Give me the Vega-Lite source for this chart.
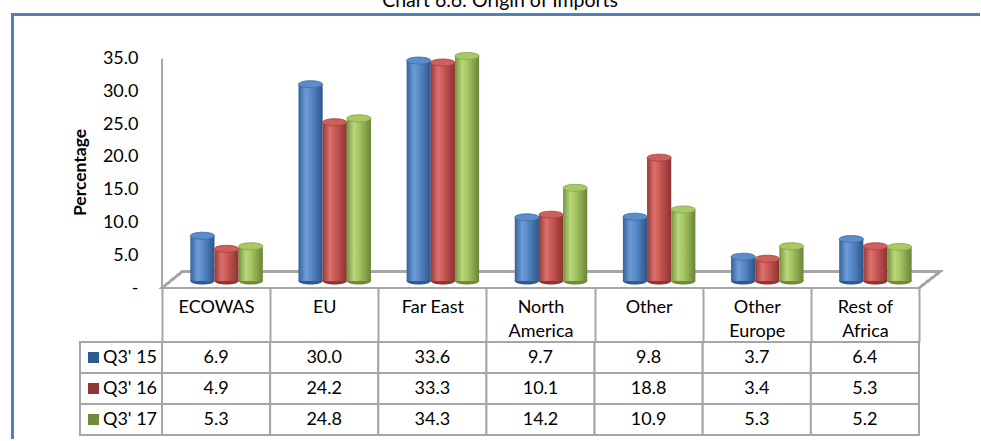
{
  "$schema": "https://vega.github.io/schema/vega-lite/v6.json",
  "background": "white",
  "padding": {"left": 9, "top": -10, "right": -3, "bottom": -3},
  "title": {"text": "Chart 6.6: Origin of Imports", "anchor": "middle", "font": "Lato", "fontSize": 19.5, "fontWeight": "normal", "color": "#000000", "offset": 3, "dx": 4},
  "config": {"view": {"stroke": null}, "font": "Lato", "axis": {"labelFont": "Lato", "titleFont": "Lato"}},
  "datasets": {
    "imports": [
      {"region": "ECOWAS", "series": "Q3' 15", "value": 6.9},
      {"region": "ECOWAS", "series": "Q3' 16", "value": 4.9},
      {"region": "ECOWAS", "series": "Q3' 17", "value": 5.3},
      {"region": "EU", "series": "Q3' 15", "value": 30.0},
      {"region": "EU", "series": "Q3' 16", "value": 24.2},
      {"region": "EU", "series": "Q3' 17", "value": 24.8},
      {"region": "Far East", "series": "Q3' 15", "value": 33.6},
      {"region": "Far East", "series": "Q3' 16", "value": 33.3},
      {"region": "Far East", "series": "Q3' 17", "value": 34.3},
      {"region": "North America", "series": "Q3' 15", "value": 9.7},
      {"region": "North America", "series": "Q3' 16", "value": 10.1},
      {"region": "North America", "series": "Q3' 17", "value": 14.2},
      {"region": "Other", "series": "Q3' 15", "value": 9.8},
      {"region": "Other", "series": "Q3' 16", "value": 18.8},
      {"region": "Other", "series": "Q3' 17", "value": 10.9},
      {"region": "Other Europe", "series": "Q3' 15", "value": 3.7},
      {"region": "Other Europe", "series": "Q3' 16", "value": 3.4},
      {"region": "Other Europe", "series": "Q3' 17", "value": 5.3},
      {"region": "Rest of Africa", "series": "Q3' 15", "value": 6.4},
      {"region": "Rest of Africa", "series": "Q3' 16", "value": 5.3},
      {"region": "Rest of Africa", "series": "Q3' 17", "value": 5.2}
    ]
  },
  "columns": 2,
  "spacing": 0,
  "bounds": "flush",
  "concat": [
    {
      "width": 150,
      "height": 328,
      "data": {"values": [{"f": 0}]},
      "mark": {"type": "point", "opacity": 0},
      "encoding": {
        "x": {"field": "f", "type": "quantitative", "scale": {"domain": [0, 1]},
              "axis": {"orient": "top", "domainColor": "#4f81bd", "domainWidth": 3, "domainCap": "square", "ticks": false, "labels": false, "grid": false, "title": null}},
        "y": {"field": "f", "type": "quantitative", "scale": {"domain": [0, 1]},
              "axis": {"orient": "left", "domainColor": "#4f81bd", "domainWidth": 3, "domainCap": "square", "ticks": false, "labels": false, "grid": false, "title": null}}
      }
    },
    {
      "width": 821,
      "height": 274,
      "layer": [
        {
          "data": {"values": [{}]},
          "mark": {"type": "rule", "color": "#a6a6a6", "strokeWidth": 2},
          "encoding": {
            "x": {"datum": "ECOWAS", "type": "nominal", "bandPosition": 0,
                  "scale": {"domain": ["ECOWAS", "EU", "Far East", "North America", "Other", "Other Europe", "Rest of Africa"], "paddingInner": 0, "paddingOuter": 0.296, "align": 0}},
            "y": {"datum": 0, "type": "quantitative",
                  "scale": {"domain": [0, 41.77], "nice": false, "zero": false},
                  "axis": {"orient": "left", "values": [0, 5, 10, 15, 20, 25, 30, 35],
                           "labelExpr": "datum.value == 0 ? '-\u00a0\u00a0\u00a0\u00a0' : format(datum.value, '.1f')",
                           "domain": false, "ticks": false, "grid": false,
                           "labelFontSize": 18, "labelColor": "#000000", "labelPadding": 24,
                           "title": "Percentage", "titleFontSize": 17.5, "titleFontWeight": "bold", "titleColor": "#000000",
                           "titlePadding": 13, "titleY": 158}},
            "y2": {"datum": 35}
          }
        },
        {
          "data": {"name": "imports"},
          "layer": [
            {
              "mark": {"type": "point", "shape": "M-0.94625,0.0175L0.94625,0.0175L0.99875,-0.02325L-0.89625,-0.02325Z", "size": 640000, "filled": false, "stroke": "#a6a6a6", "strokeWidth": 2, "opacity": 1},
              "encoding": {
                "x": {"datum": "North America", "type": "nominal",
                      "scale": {"domain": ["ECOWAS", "EU", "Far East", "North America", "Other", "Other Europe", "Rest of Africa"], "paddingInner": 0, "paddingOuter": 0.296, "align": 0}},
                "y": {"datum": 0, "type": "quantitative",
                      "scale": {"domain": [-1.067, 40.7], "nice": false, "zero": false},
                      "axis": {"orient": "right", "values": [40.7], "grid": true, "gridColor": "#4f81bd", "gridWidth": 3, "gridOpacity": 1, "domain": false, "ticks": false, "labels": false, "title": null}}
              }
            },
            {
              "mark": {"type": "point", "shape": "M-1,0A1,0.29,0,1,0,1,0A1,0.29,0,1,0,-1,0Z", "size": 586, "filled": true, "opacity": 1},
              "encoding": {
                "x": {"field": "region", "type": "nominal",
                      "scale": {"domain": ["ECOWAS", "EU", "Far East", "North America", "Other", "Other Europe", "Rest of Africa"], "paddingInner": 0, "paddingOuter": 0.296, "align": 0}},
                "xOffset": {"field": "series", "type": "nominal",
                            "scale": {"domain": ["Q3' 15", "Q3' 16", "Q3' 17"], "paddingInner": 0, "paddingOuter": 0.738, "align": 0.795}},
                "y": {"datum": 0, "type": "quantitative", "scale": {"domain": [-1.067, 40.7], "nice": false, "zero": false}},
                "color": {"field": "series", "type": "nominal",
                          "scale": {"domain": ["Q3' 15", "Q3' 16", "Q3' 17"], "range": ["#2f5a91", "#8f3532", "#6f8a38"]}, "legend": null}
              }
            },
            {
              "transform": [{"filter": {"field": "series", "equal": "Q3' 15"}}],
              "mark": {"type": "bar", "fill": {"gradient": "linear", "x1": 0, "y1": 0, "x2": 1, "y2": 0,
                        "stops": [{"offset": 0, "color": "#35609a"}, {"offset": 0.3, "color": "#6d9cd8"}, {"offset": 0.55, "color": "#5787c4"}, {"offset": 1, "color": "#2c5589"}]}},
              "encoding": {
                "x": {"field": "region", "type": "nominal",
                      "scale": {"domain": ["ECOWAS", "EU", "Far East", "North America", "Other", "Other Europe", "Rest of Africa"], "paddingInner": 0, "paddingOuter": 0.296, "align": 0},
                      "axis": {"orient": "bottom", "domain": false, "tickBand": "extent", "tickSize": 54, "tickColor": "#a6a6a6", "tickWidth": 2,
                               "labelAngle": 0, "labelAlign": "center", "labelFontSize": 18, "labelColor": "#000000", "labelPadding": -44, "labelBaseline": "top", "labelLineHeight": 24,
                               "labelOverlap": false, "labelFlush": false, "grid": false, "title": null,
                               "labelExpr": "datum.label == 'North America' ? ['North', 'America'] : datum.label == 'Other Europe' ? ['Other', 'Europe'] : datum.label == 'Rest of Africa' ? ['Rest of', 'Africa'] : datum.label"}},
                "xOffset": {"field": "series", "type": "nominal",
                            "scale": {"domain": ["Q3' 15", "Q3' 16", "Q3' 17"], "paddingInner": 0, "paddingOuter": 0.738, "align": 0.795}},
                "y": {"field": "value", "type": "quantitative", "scale": {"domain": [-1.067, 40.7], "nice": false, "zero": false}}
              }
            },
            {
              "transform": [{"filter": {"field": "series", "equal": "Q3' 16"}}],
              "mark": {"type": "bar", "fill": {"gradient": "linear", "x1": 0, "y1": 0, "x2": 1, "y2": 0,
                        "stops": [{"offset": 0, "color": "#9a3935"}, {"offset": 0.3, "color": "#db726f"}, {"offset": 0.55, "color": "#c65753"}, {"offset": 1, "color": "#8a3331"}]}},
              "encoding": {
                "x": {"field": "region", "type": "nominal",
                      "scale": {"domain": ["ECOWAS", "EU", "Far East", "North America", "Other", "Other Europe", "Rest of Africa"], "paddingInner": 0, "paddingOuter": 0.296, "align": 0}},
                "xOffset": {"field": "series", "type": "nominal",
                            "scale": {"domain": ["Q3' 15", "Q3' 16", "Q3' 17"], "paddingInner": 0, "paddingOuter": 0.738, "align": 0.795}},
                "y": {"field": "value", "type": "quantitative", "scale": {"domain": [-1.067, 40.7], "nice": false, "zero": false}}
              }
            },
            {
              "transform": [{"filter": {"field": "series", "equal": "Q3' 17"}}],
              "mark": {"type": "bar", "fill": {"gradient": "linear", "x1": 0, "y1": 0, "x2": 1, "y2": 0,
                        "stops": [{"offset": 0, "color": "#76943c"}, {"offset": 0.3, "color": "#bad87c"}, {"offset": 0.55, "color": "#a2c15f"}, {"offset": 1, "color": "#6a8535"}]}},
              "encoding": {
                "x": {"field": "region", "type": "nominal",
                      "scale": {"domain": ["ECOWAS", "EU", "Far East", "North America", "Other", "Other Europe", "Rest of Africa"], "paddingInner": 0, "paddingOuter": 0.296, "align": 0}},
                "xOffset": {"field": "series", "type": "nominal",
                            "scale": {"domain": ["Q3' 15", "Q3' 16", "Q3' 17"], "paddingInner": 0, "paddingOuter": 0.738, "align": 0.795}},
                "y": {"field": "value", "type": "quantitative", "scale": {"domain": [-1.067, 40.7], "nice": false, "zero": false}}
              }
            },
            {
              "mark": {"type": "point", "shape": "M-1,0A1,0.29,0,1,0,1,0A1,0.29,0,1,0,-1,0Z", "size": 586, "filled": true, "opacity": 1, "strokeWidth": 0.8},
              "encoding": {
                "x": {"field": "region", "type": "nominal",
                      "scale": {"domain": ["ECOWAS", "EU", "Far East", "North America", "Other", "Other Europe", "Rest of Africa"], "paddingInner": 0, "paddingOuter": 0.296, "align": 0}},
                "xOffset": {"field": "series", "type": "nominal",
                            "scale": {"domain": ["Q3' 15", "Q3' 16", "Q3' 17"], "paddingInner": 0, "paddingOuter": 0.738, "align": 0.795}},
                "y": {"field": "value", "type": "quantitative", "scale": {"domain": [-1.067, 40.7], "nice": false, "zero": false}},
                "fill": {"field": "series", "type": "nominal",
                         "scale": {"domain": ["Q3' 15", "Q3' 16", "Q3' 17"], "range": ["#5b8ccb", "#cd5f5c", "#a9c866"]}, "legend": null},
                "stroke": {"field": "series", "type": "nominal",
                           "scale": {"domain": ["Q3' 15", "Q3' 16", "Q3' 17"], "range": ["#3e6ca6", "#a3403d", "#85a348"]}, "legend": null}
              }
            }
          ]
        }
      ],
      "resolve": {"scale": {"y": "independent"}, "axis": {"y": "independent"}}
    },
    {
      "width": 150,
      "height": 100,
      "data": {"name": "imports"},
      "transform": [{"aggregate": [{"op": "count", "as": "n"}], "groupby": ["series"]}],
      "encoding": {
        "y": {"field": "series", "type": "nominal",
              "scale": {"domain": ["Q3' 15", "Q3' 16", "Q3' 17"], "paddingInner": 0, "paddingOuter": 0.1129, "align": 0},
              "axis": {"orient": "left", "domainColor": "#4f81bd", "domainWidth": 3, "domainCap": "square", "ticks": false, "labels": false, "grid": false, "title": null}},
        "x": {"datum": "legend", "type": "nominal",
              "scale": {"domain": ["legend"], "paddingInner": 0, "paddingOuter": 0.4146, "align": 1}, "axis": null}
      },
      "layer": [
        {"mark": {"type": "rect", "fill": "white", "stroke": "#a6a6a6", "strokeWidth": 2}},
        {
          "mark": {"type": "point", "shape": "M-0.66,-0.11H-0.44V0.11H-0.66Z", "size": 10000, "filled": true, "opacity": 1},
          "encoding": {
            "color": {"field": "series", "type": "nominal",
                      "scale": {"domain": ["Q3' 15", "Q3' 16", "Q3' 17"], "range": ["#4f81bd", "#c0504d", "#9bbb59"]}, "legend": null}
          }
        },
        {
          "mark": {"type": "text", "dx": 9, "fontSize": 18, "font": "Lato", "color": "#000000"},
          "encoding": {"text": {"field": "series", "type": "nominal"}}
        }
      ]
    },
    {
      "width": 821,
      "height": 100,
      "data": {"name": "imports"},
      "encoding": {
        "x": {"field": "region", "type": "nominal",
              "scale": {"domain": ["ECOWAS", "EU", "Far East", "North America", "Other", "Other Europe", "Rest of Africa"], "paddingInner": 0, "paddingOuter": 0.296, "align": 0},
              "axis": null},
        "y": {"field": "series", "type": "nominal",
              "scale": {"domain": ["Q3' 15", "Q3' 16", "Q3' 17"], "paddingInner": 0, "paddingOuter": 0.1129, "align": 0},
              "axis": null}
      },
      "layer": [
        {"mark": {"type": "rect", "fill": "white", "stroke": "#a6a6a6", "strokeWidth": 2}},
        {
          "mark": {"type": "text", "fontSize": 18, "font": "Lato", "color": "#000000"},
          "encoding": {"text": {"field": "value", "type": "quantitative", "format": ".1f"}}
        }
      ]
    }
  ]
}
